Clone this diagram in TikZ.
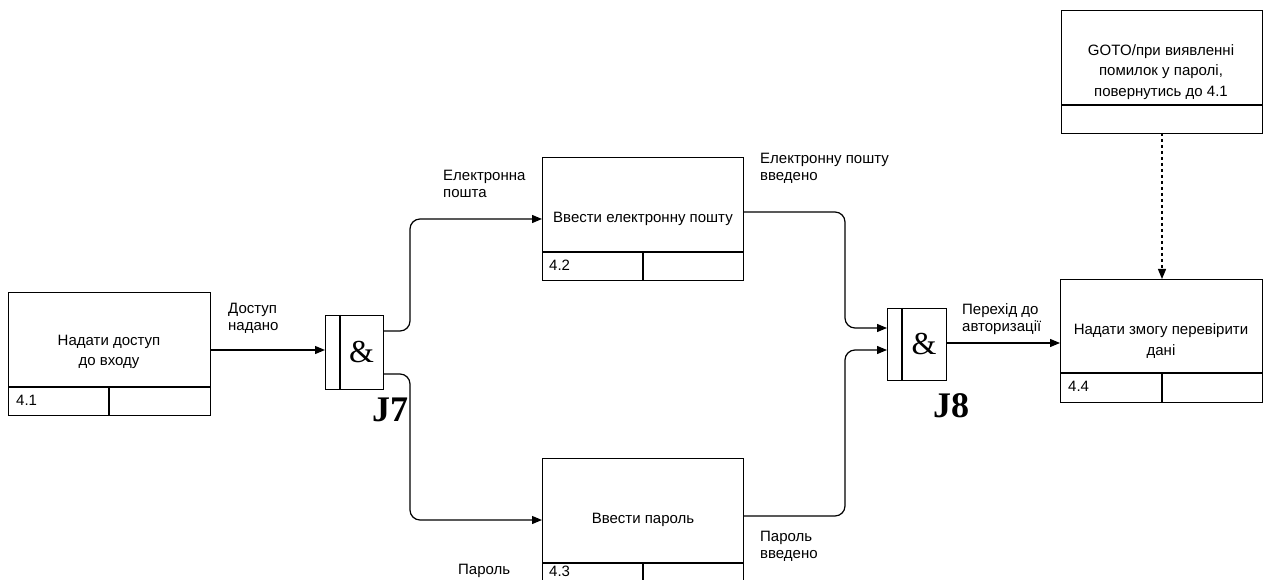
\documentclass[tikz,border=0pt]{standalone}
\usepackage{fontspec}
\setmainfont{Liberation Sans}
\newfontfamily\jfont{Liberation Serif}
\usetikzlibrary{arrows.meta,calc}
\tikzset{
  ln/.style={line width=1.2pt, draw=black},
  arr/.style={ln, -{Triangle[length=10pt,width=8pt]}, rounded corners=10pt},
  box/.style={ln, rectangle, inner sep=0pt, anchor=north west},
  txt/.style={font=\fontsize{15}{20.5}\selectfont, align=center, inner sep=0pt},
  lbl/.style={font=\fontsize{15}{17}\selectfont, align=left, anchor=north west, inner sep=0pt},
  amp/.style={font=\jfont\fontsize{32}{32}\selectfont, inner sep=0pt},
  jl/.style={font=\jfont\bfseries\fontsize{36}{36}\selectfont, inner sep=0pt},
}
\begin{document}
\begin{tikzpicture}[x=1pt,y=-1pt]
\useasboundingbox (0,0) rectangle (1270,580);
% Box 4.1
\node[box, minimum width=202pt, minimum height=123pt] (b41) at (8,292) {};
\draw[ln] (8,387) -- (210,387) (109,387) -- (109,415);
\node[txt] (t41) at (109,352) {Надати доступ\\до входу};
\node[lbl] (n41) at (16,395) {4.1};
% Box 4.2
\node[box, minimum width=201pt, minimum height=123pt] (b42) at (542,157) {};
\draw[ln] (542,252) -- (743,252) (643,252) -- (643,280);
\node[txt] (t42) at (643,219) {Ввести електронну пошту};
\node[lbl] (n42) at (549,260) {4.2};
% Box 4.3
\node[box, minimum width=201pt, minimum height=123pt] (b43) at (542,458) {};
\draw[ln] (542,563) -- (743,563) (643,563) -- (643,580);
\node[txt] (t43) at (643,520) {Ввести пароль};
\node[lbl] (n43) at (549,566) {4.3};
% Box 4.4
\node[box, minimum width=202pt, minimum height=123pt] (b44) at (1060,279) {};
\draw[ln] (1060,373) -- (1262,373) (1162,373) -- (1162,402);
\node[txt] (t44) at (1161,341) {Надати змогу перевірити\\дані};
\node[lbl] (n44) at (1068,381) {4.4};
% GOTO box
\node[box, minimum width=201pt, minimum height=123pt] (bg) at (1061,10) {};
\draw[ln] (1061,105) -- (1262,105);
\node[txt] (tg) at (1161,72) {GOTO/при виявленні\\помилок у паролі,\\повернутись до 4.1};
% J7
\node[box, minimum width=58pt, minimum height=74pt] (j7) at (325,315) {};
\draw[ln] (340,315) -- (340,389);
\node[amp] (a7) at (361.5,352) {\&};
\node[jl] (l7) at (390,410) {J7};
% J8
\node[box, minimum width=59pt, minimum height=72pt] (j8) at (887,308) {};
\draw[ln] (902,308) -- (902,380);
\node[amp] (a8) at (924,344) {\&};
\node[jl] (l8) at (951,406) {J8};
% connectors
\draw[arr] ($(b41.north east)+(0,58)$) -- ($(j7.north west)+(0,35)$);
\draw[arr] ($(j7.north east)+(0,16)$) -| (410,260) |- ($(b42.north west)+(0,62)$);
\draw[arr] ($(j7.north east)+(0,59)$) -| (410,450) |- ($(b43.north west)+(0,62)$);
\draw[arr] ($(b42.north east)+(0,55)$) -| (845,290) |- ($(j8.north west)+(0,20)$);
\draw[arr] ($(b43.north east)+(0,58)$) -| (845,400) |- ($(j8.north west)+(0,42)$);
\draw[arr] ($(j8.north east)+(0,35)$) -- ($(b44.north west)+(0,64)$);
\draw[ln, dashed, -{Triangle[length=10pt,width=8pt]}] ($(bg.north west)+(101,123)$) -- ($(b44.north west)+(102,0)$);
% labels
\node[lbl] (d1) at (228,303) {Доступ\\надано};
\node[lbl] (d2) at (443,170) {Електронна\\пошта};
\node[lbl] (d3) at (458,564) {Пароль};
\node[lbl] (d4) at (760,153) {Електронну пошту\\введено};
\node[lbl] (d5) at (760,531) {Пароль\\введено};
\node[lbl] (d6) at (962,303) {Перехід до\\авторизації};
\end{tikzpicture}
\end{document}
